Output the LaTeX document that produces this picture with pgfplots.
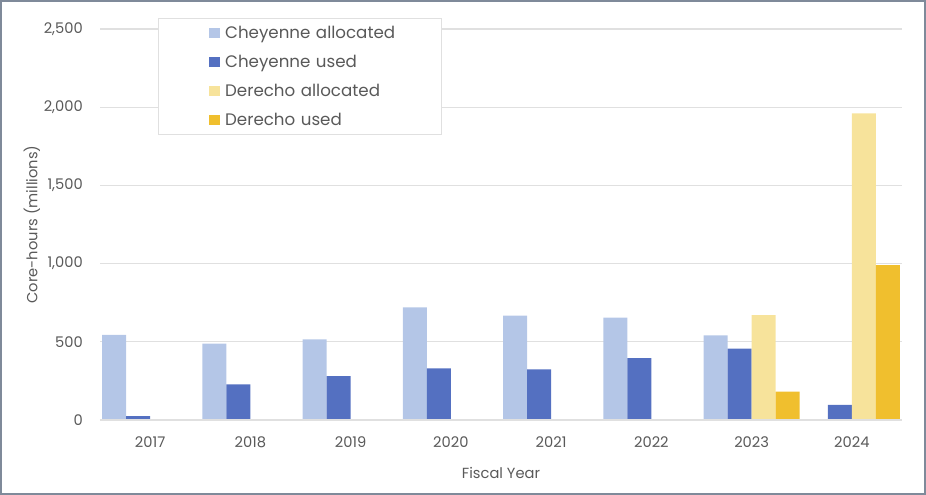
\documentclass[border=0pt]{standalone}
\usepackage{pgfplots}
\pgfplotsset{compat=1.18}
\usepackage{fontspec}
\setmainfont{Poppins}
\definecolor{cal}{HTML}{B4C6E7}
\definecolor{cused}{HTML}{5470C1}
\definecolor{dal}{HTML}{F7E39B}
\definecolor{dused}{HTML}{F0BF2E}
\definecolor{txt}{HTML}{595959}
\definecolor{gridc}{HTML}{E0E0E0}
\definecolor{framec}{HTML}{7F8A9A}
\begin{document}
\begin{tikzpicture}
\useasboundingbox (0,0) rectangle (694.5pt,371.25pt);
\draw[framec, line width=1.2pt] (0.6pt,0.6pt) rectangle (693.9pt,370.65pt);
\begin{axis}[
  at={(75pt,56.25pt)}, anchor=south west,
  scale only axis, width=601.5pt, height=293.25pt,
  ybar=0pt, bar width=18pt,
  xmin=-0.5, xmax=7.5, ymin=0, ymax=2500,
  xtick={0,...,7},
  xticklabels={2017,2018,2019,2020,2021,2022,2023,2024},
  ytick={0,500,1000,1500,2000,2500},
  yticklabels={0,500,{1,000},{1,500},{2,000},{2,500}},
  major tick length=0pt,
  axis lines*=left,
  axis line style={draw=none},
  ymajorgrids, grid style={gridc, line width=0.8pt},
  /pgf/number format/assume math mode=true,
  ticklabel style={font=\fontsize{11pt}{13pt}\selectfont, text=txt},
  yticklabel style={inner sep=0pt, xshift=-12.75pt},
  xticklabel style={inner sep=0pt, yshift=-12.5pt},
  xlabel={Fiscal Year}, ylabel={Core-hours (millions)},
  label style={font=\fontsize{11pt}{13pt}\selectfont, text=txt},
  xlabel style={at={(axis description cs:0.5,-0.135)}, anchor=center},
  ylabel style={at={(axis description cs:-0.0848,0.5)}, anchor=center},
  legend style={at={(axis description cs:0.0719,1.0281)}, anchor=north west,
    draw=gridc, line width=0.8pt, fill=white, inner sep=0pt, row sep=0pt, column sep=0pt,
    font=\fontsize{12.5pt}{14pt}\selectfont, text=txt,
    cells={anchor=west, text width=160.5pt, inner sep=0pt, align=left}},
  legend image code/.code={%
    \path[draw=none, fill=none] (0pt,-10.875pt) rectangle (48.25pt,10.875pt);
    \fill[#1] (38pt,-3.5pt) rectangle (46.25pt,3.5pt);},
  clip=false,
]
\addplot[fill=cal, draw=none] coordinates {(0,545) (1,488) (2,516) (3,720) (4,667) (5,654) (6,541)};
\addplot[fill=cused, draw=none] coordinates {(0,24) (1,228) (2,281) (3,330) (4,324) (5,396) (6,456) (7,96)};
\addplot[fill=dal, draw=none] coordinates {(6,671) (7,1961)};
\addplot[fill=dused, draw=none] coordinates {(6,181) (7,991)};
\draw[gridc, line width=0.8pt] (rel axis cs:0,0) -- (rel axis cs:1,0);
\legend{Cheyenne allocated, Cheyenne used, Derecho allocated, Derecho used}
\end{axis}
\end{tikzpicture}
\end{document}
